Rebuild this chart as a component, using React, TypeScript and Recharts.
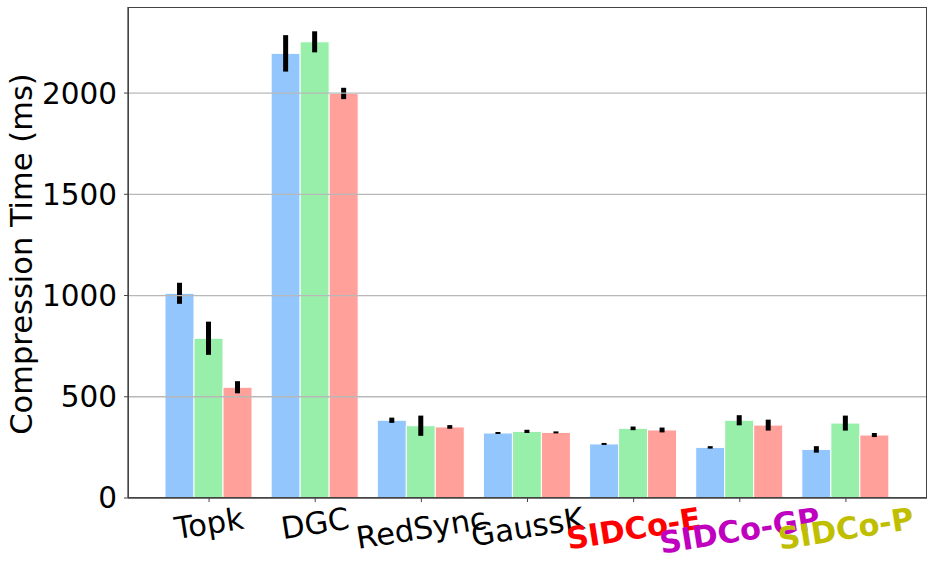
import React from "react";
import { BarChart, Bar, XAxis, YAxis, ErrorBar, ReferenceLine } from "recharts";

const methods = ["Topk", "DGC", "RedSync", "GaussK", "SIDCo-E", "SIDCo-GP", "SIDCo-P"];
const labelColors = ["#000000", "#000000", "#000000", "#000000", "#ff0000", "#bf00bf", "#bfbf00"];

// three runs per method (blue / green / red bars), ms
const blueTimes = [1011, 2196, 384, 321, 267, 250, 240];
const greenTimes = [789, 2253, 357, 329, 344, 384, 370];
const redTimes = [547, 1998, 351, 324, 336, 360, 311];
const blueErr = [52, 90, 13, 5, 5, 6, 16];
const greenErr = [82, 52, 50, 8, 9, 25, 37];
const redErr = [30, 28, 9, 5, 12, 27, 10];

const yTicks = [0, 500, 1000, 1500, 2000];

const BLUE = "#93c6fd";
const GREEN = "#98efa9";
const RED = "#ffa09b";
const FONT = "'DejaVu Sans', sans-serif";
const ANGLE = 9;

const data = methods.map((m, i) => ({
  name: m,
  blue: blueTimes[i],
  blueErr: blueErr[i],
  green: greenTimes[i],
  greenErr: greenErr[i],
  red: redTimes[i],
  redErr: redErr[i],
}));

let ctx: CanvasRenderingContext2D | null = null;
function textWidth(s: string, font: string) {
  if (!ctx) ctx = document.createElement("canvas").getContext("2d");
  if (!ctx) return s.length * 18;
  ctx.font = font;
  return ctx.measureText(s).width;
}

function MethodTick(props: any) {
  const { x, y, payload } = props;
  const i = methods.indexOf(payload.value);
  const bold = i >= 4;
  const size = 30.5;
  const w = textWidth(payload.value, `${bold ? "bold " : ""}${size}px 'DejaVu Sans'`);
  const rad = (ANGLE * Math.PI) / 180;
  const boxH = w * Math.sin(rad) + size * Math.cos(rad);
  const cy = y + boxH / 2;
  return (
    <text
      x={x}
      y={cy}
      textAnchor="middle"
      dominantBaseline="central"
      transform={`rotate(-${ANGLE}, ${x}, ${cy})`}
      fontSize={size}
      fontWeight={bold ? "bold" : "normal"}
      fontFamily={FONT}
      fill={labelColors[i]}
    >
      {payload.value}
    </text>
  );
}

export default function App() {
  return (
    <div style={{ position: "absolute", left: 0, top: 0, width: 934, height: 571, background: "#fff" }}>
      <BarChart
        width={934}
        height={571}
        data={data}
        margin={{ top: 7, right: 7, left: 0, bottom: 0 }}
        barCategoryGap={9}
        barGap={0}
      >
        <XAxis
          dataKey="name"
          height={73}
          padding={{ left: 28, right: 28 }}
          tickSize={4}
          tickMargin={1}
          interval={0}
          tick={<MethodTick />}
          axisLine={{ stroke: "#444", strokeWidth: 1.3 }}
          tickLine={{ stroke: "#444" }}
        />
        <YAxis
          width={128}
          domain={[0, 2425]}
          ticks={yTicks}
          tickSize={4}
          tickMargin={7}
          tick={{ fontSize: 29.5, fill: "#000", fontFamily: FONT }}
          axisLine={{ stroke: "#444", strokeWidth: 1.3 }}
          tickLine={{ stroke: "#444" }}
        />
        <Bar dataKey="blue" fill={BLUE} stroke="#fff" strokeWidth={1} isAnimationActive={false}>
          <ErrorBar dataKey="blueErr" width={0} stroke="#000" strokeWidth={5} isAnimationActive={false} />
        </Bar>
        <Bar dataKey="green" fill={GREEN} stroke="#fff" strokeWidth={1} isAnimationActive={false}>
          <ErrorBar dataKey="greenErr" width={0} stroke="#000" strokeWidth={5} isAnimationActive={false} />
        </Bar>
        <Bar dataKey="red" fill={RED} stroke="#fff" strokeWidth={1} isAnimationActive={false}>
          <ErrorBar dataKey="redErr" width={0} stroke="#000" strokeWidth={5} isAnimationActive={false} />
        </Bar>
        {yTicks.slice(1).map((t) => (
          <ReferenceLine key={t} y={t} stroke="#b8b8b8" strokeWidth={1.3} />
        ))}
      </BarChart>
      {/* axes frame (top and right spines) */}
      <div
        style={{
          position: "absolute",
          left: 127.5,
          top: 6.5,
          width: 799.5,
          height: 491.5,
          boxSizing: "border-box",
          border: "1.3px solid #444",
          pointerEvents: "none",
        }}
      />
      <div
        style={{
          position: "absolute",
          left: 22 - 250,
          top: 254 - 20,
          width: 500,
          height: 40,
          lineHeight: "40px",
          textAlign: "center",
          transform: "rotate(-90deg)",
          fontSize: 30.5,
          fontFamily: FONT,
          color: "#000",
        }}
      >
        Compression Time (ms)
      </div>
    </div>
  );
}
